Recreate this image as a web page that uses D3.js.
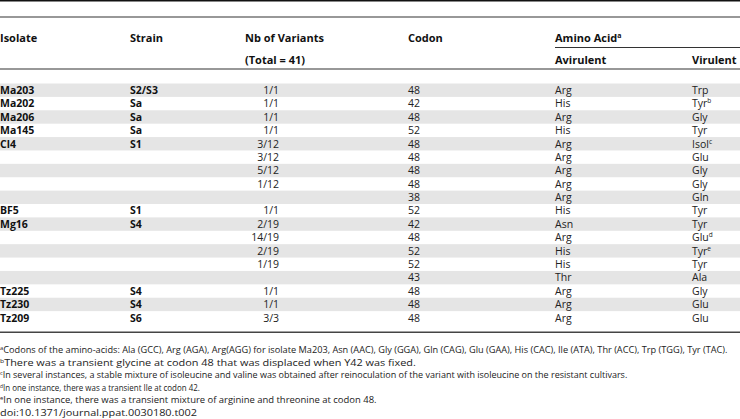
<!DOCTYPE html>
<html>
<head>
<meta charset="utf-8">
<script src="https://cdn.jsdelivr.net/npm/d3@7"></script>
<style>
  body { margin: 0; background: #fff; }
  svg { display: block; font-family: "Open Sans", sans-serif; }
</style>
</head>
<body>
<div id="table"></div>
<script>
// table values
var isolates = ["Ma203", "Ma202", "Ma206", "Ma145", "Cl4", "", "", "", "", "BF5", "Mg16", "", "", "", "", "Tz225", "Tz230", "Tz209"];
var strains = ["S2/S3", "Sa", "Sa", "Sa", "S1", "", "", "", "", "S1", "S4", "", "", "", "", "S4", "S4", "S6"];
var variants = ["1/1", "1/1", "1/1", "1/1", "3/12", "3/12", "5/12", "1/12", "", "1/1", "2/19", "14/19", "2/19", "1/19", "", "1/1", "1/1", "3/3"];
var codons = ["48", "42", "48", "52", "48", "48", "48", "48", "38", "52", "42", "48", "52", "52", "43", "48", "48", "48"];
var avirulent = ["Arg", "His", "Arg", "His", "Arg", "Arg", "Arg", "Arg", "Arg", "His", "Asn", "Arg", "His", "His", "Thr", "Arg", "Arg", "Arg"];
var virulent = ["Trp", "Tyr", "Gly", "Tyr", "Isol", "Glu", "Gly", "Gly", "Gln", "Tyr", "Tyr", "Glu", "Tyr", "Tyr", "Ala", "Gly", "Glu", "Glu"];
var virulentNote = ["", "b", "", "", "c", "", "", "", "", "", "", "d", "e", "", "", "", "", ""];

var footnotes = [
  { mark: "a", text: "Codons of the amino-acids: Ala (GCC), Arg (AGA), Arg(AGG) for isolate Ma203, Asn (AAC), Gly (GGA), Gln (CAG), Glu (GAA), His (CAC), Ile (ATA), Thr (ACC), Trp (TGG), Tyr (TAC).", w: 728 },
  { mark: "b", text: "There was a transient glycine at codon 48 that was displaced when Y42 was fixed.", w: 416 },
  { mark: "c", text: "In several instances, a stable mixture of isoleucine and valine was obtained after reinoculation of the variant with isoleucine on the resistant cultivars.", w: 628 },
  { mark: "d", text: "In one instance, there was a transient Ile at codon 42.", w: 200 },
  { mark: "e", text: "In one instance, there was a transient mixture of arginine and threonine at codon 48.", w: 377 },
  { mark: "", text: "doi:10.1371/journal.ppat.0030180.t002", w: 197 }
];

var width = 740, height = 419;

var svg = d3.select("#table")
  .append("svg")
  .attr("width", width)
  .attr("height", height);

var rows = d3.range(isolates.length);

// row positions
var y = d3.scaleBand()
  .domain(rows)
  .range([83.5, 324.5]);

// column positions
var x = d3.scaleOrdinal()
  .domain(["isolate", "strain", "variants", "codon", "avirulent", "virulent"])
  .range([0, 130, 279, 408, 555, 692]);

// stripes
svg.selectAll(".stripe")
  .data(rows.filter(function (i) { return i % 2 == 0; }))
  .enter().append("rect")
  .attr("class", "stripe")
  .attr("x", 0)
  .attr("width", width)
  .attr("y", function (i) { return y(i); })
  .attr("height", y.bandwidth())
  .attr("fill", "#e5e5e5");

// rules
svg.append("rect").attr("x", 0).attr("y", 0).attr("width", width).attr("height", 1.5).attr("fill", "#111");
svg.append("rect").attr("x", 0).attr("y", 16.5).attr("width", width).attr("height", 1).attr("fill", "#333");
svg.append("rect").attr("x", 555).attr("y", 47).attr("width", width - 555).attr("height", 1).attr("fill", "#333");
svg.append("rect").attr("x", 0).attr("y", 68.5).attr("width", width).attr("height", 1).attr("fill", "#333");
svg.append("rect").attr("x", 0).attr("y", 331.5).attr("width", width).attr("height", 1.5).attr("fill", "#444");

// header
var head = svg.append("g")
  .style("font-weight", "bold")
  .style("font-size", "11px")
  .attr("fill", "#111");

head.append("text").attr("x", x("isolate")).attr("y", 42).text("Isolate");
head.append("text").attr("x", x("strain")).attr("y", 42).text("Strain");
head.append("text").attr("x", 245).attr("y", 42).text("Nb of Variants");
head.append("text").attr("x", 245).attr("y", 64).text("(Total = 41)");
head.append("text").attr("x", x("codon")).attr("y", 42).text("Codon");
var aa = head.append("text").attr("x", x("avirulent")).attr("y", 42).text("Amino Acid");
aa.append("tspan").attr("font-size", "7px").attr("dy", -4).text("a");
head.append("text").attr("x", x("avirulent")).attr("y", 64).text("Avirulent");
head.append("text").attr("x", x("virulent")).attr("y", 64).text("Virulent");

// body
var body = svg.append("g")
  .style("font-size", "10.5px")
  .attr("fill", "#222");

function rowY(i) { return y(i) + y.bandwidth() / 2 + 3.8; }

body.selectAll(".iso").data(rows).enter().append("text")
  .attr("x", x("isolate")).attr("y", rowY)
  .style("font-weight", "bold").attr("fill", "#111")
  .text(function (i) { return isolates[i]; });

body.selectAll(".str").data(rows).enter().append("text")
  .attr("x", x("strain")).attr("y", rowY)
  .style("font-weight", "bold").attr("fill", "#111")
  .text(function (i) { return strains[i]; });

body.selectAll(".var").data(rows).enter().append("text")
  .attr("x", x("variants")).attr("y", rowY)
  .attr("text-anchor", "end")
  .text(function (i) { return variants[i]; });

body.selectAll(".cod").data(rows).enter().append("text")
  .attr("x", x("codon")).attr("y", rowY)
  .text(function (i) { return codons[i]; });

body.selectAll(".avi").data(rows).enter().append("text")
  .attr("x", x("avirulent")).attr("y", rowY)
  .text(function (i) { return avirulent[i]; });

var vir = body.selectAll(".vir").data(rows).enter().append("text")
  .attr("x", x("virulent")).attr("y", rowY)
  .text(function (i) { return virulent[i]; });
vir.filter(function (i) { return virulentNote[i] != ""; })
  .append("tspan")
  .attr("font-size", "6.5px")
  .attr("dy", -4)
  .text(function (i) { return virulentNote[i]; });

// footnotes: condensed by scaling each line to the width
var notes = svg.append("g")
  .style("font-size", "9.6px")
  .attr("fill", "#222");

var fy = d3.scaleLinear().domain([0, 1]).range([353, 365.6]);

notes.selectAll("text").data(footnotes).enter().append("text")
  .attr("x", 0)
  .attr("y", 0)
  .each(function (d, i) {
    var t = d3.select(this);
    if (d.mark) t.append("tspan").attr("font-size", "6px").attr("dy", -3).text(d.mark);
    t.append("tspan").attr("dy", d.mark ? 3 : 0).text(d.text);
    var natural = this.getComputedTextLength();
    t.attr("transform", "translate(0," + fy(i) + ") scale(" + (d.w / natural) + ",1)");
  });
</script>
</body>
</html>
